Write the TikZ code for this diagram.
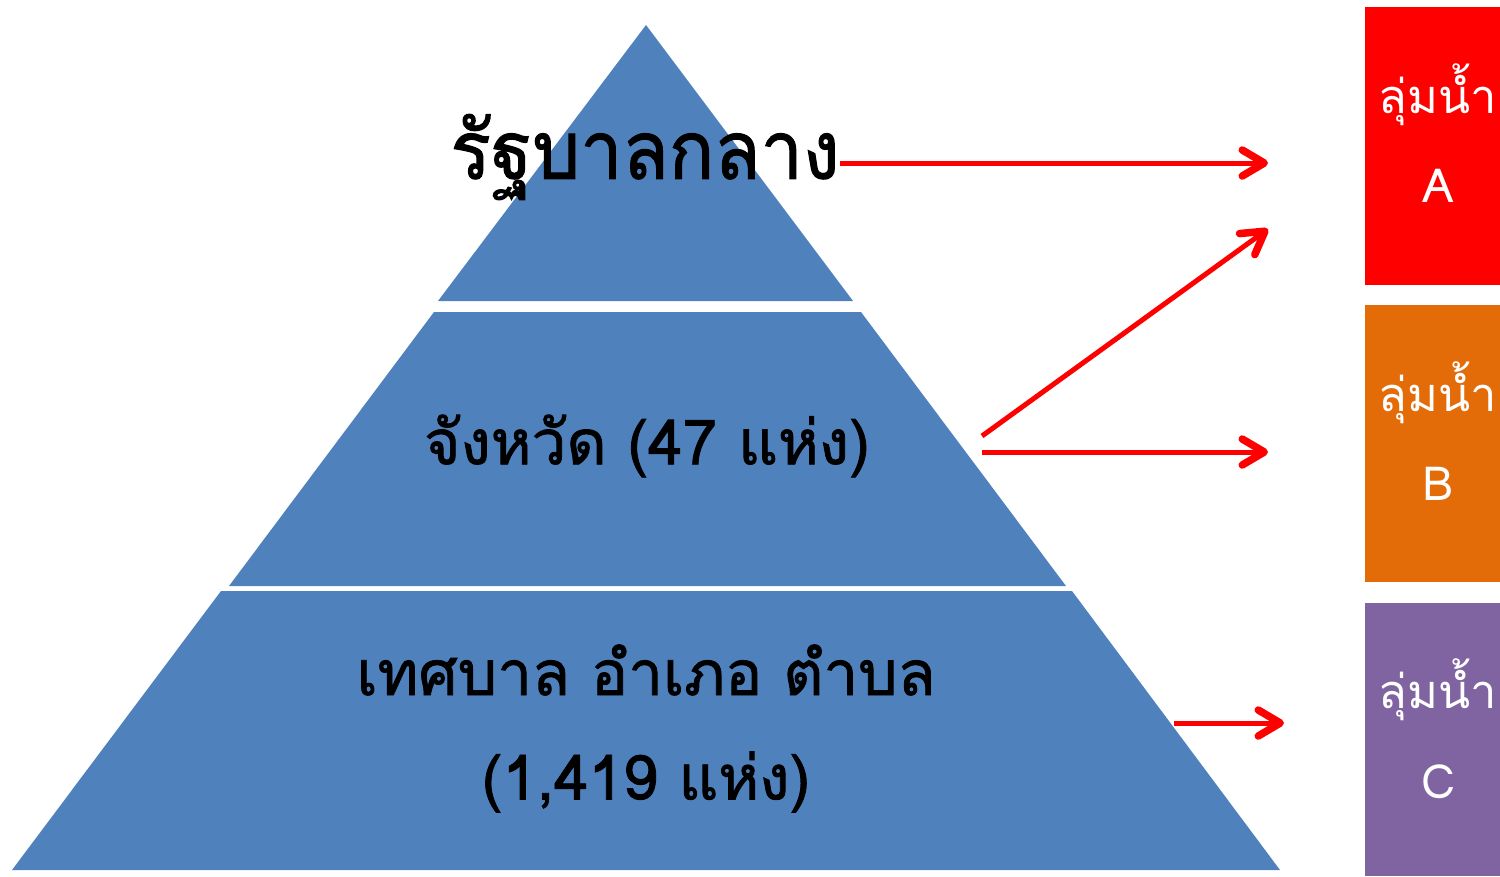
\documentclass[tikz,border=0pt]{standalone}
\usepackage{fontspec}
\usetikzlibrary{arrows.meta}
\newfontfamily\thai[Script=Thai]{Loma}
\newfontfamily\thaiheavy[Script=Thai, FakeBold=1.3]{Loma}
\newfontfamily\thaitop[Script=Thai, FakeBold=1.3, FakeStretch=0.93]{Loma}
\definecolor{pyr}{HTML}{4F81BD}
\definecolor{boxA}{HTML}{FF0000}
\definecolor{boxB}{HTML}{E36C09}
\definecolor{boxC}{HTML}{8064A2}
\tikzset{
  seg/.style={fill=pyr, draw=none},
  lvl/.style={text=black, inner sep=0pt, font=\thaiheavy\fontsize{62}{72}\selectfont},
  basintext/.style={text=white, inner sep=0pt, font=\thai\fontsize{47}{56}\selectfont},
  flow/.style={draw=red, line width=5pt, -{Straight Barb[round, length=22pt, width=26pt, line width=7.5pt]}}
}
\begin{document}
\begin{tikzpicture}[x=1pt, y=-1pt]
\useasboundingbox (0,0) rectangle (1500,876);
% pyramid
\fill[seg] (646,25) -- (853,301) -- (438,301) -- cycle;
\fill[seg] (434,312) -- (861,312) -- (1066,586) -- (229,586) -- cycle;
\fill[seg] (221,591) -- (1072,591) -- (1280,870) -- (12,870) -- cycle;
% texts
\node[lvl, font=\thaitop\fontsize{81}{92}\selectfont] (central) at (645,157) {รัฐบาลกลาง};
\node[lvl] (prov) at (647,446) {จังหวัด (47 แห่ง)};
\node[lvl] (local1) at (646,670) {เทศบาล อำเภอ ตำบล};
\node[lvl] (local2) at (646,782) {(1,419 แห่ง)};
% basins
\fill[boxA] (1365,7) rectangle (1500,285);
\fill[boxB] (1365,305) rectangle (1500,582);
\fill[boxC] (1365,603) rectangle (1500,876);
\node[basintext] (bA1) at (1438,95) {ลุ่มน้ำ};
\node[basintext] (bA2) at (1438,186) {A};
\node[basintext] (bB1) at (1438,393) {ลุ่มน้ำ};
\node[basintext] (bB2) at (1438,484) {B};
\node[basintext] (bC1) at (1438,690) {ลุ่มน้ำ};
\node[basintext] (bC2) at (1438,782) {C};
% arrow ends
\coordinate (tA) at (1268,163);
\coordinate (tB1) at (1268,229);
\coordinate (tB2) at (1268,452);
\coordinate (tC) at (1284,723);
\coordinate (sP1) at (982,436);
\coordinate (sP2) at (982,452);
\coordinate (sL) at (1174,723);
\draw[flow] (central.east |- tA) -- (tA);
\draw[flow] (sP1) -- (tB1);
\draw[flow] (sP2) -- (tB2);
\draw[flow] (sL) -- (tC);
\end{tikzpicture}
\end{document}
